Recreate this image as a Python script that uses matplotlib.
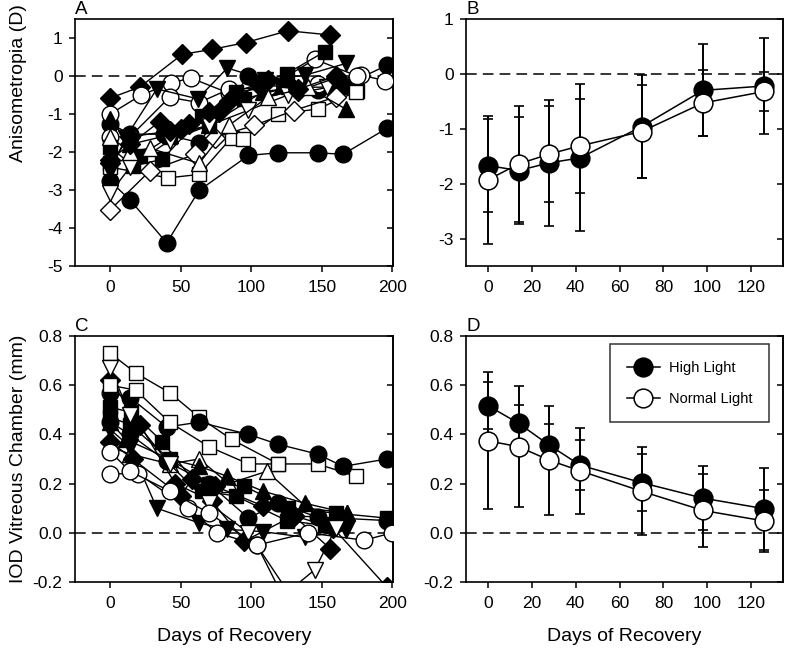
import matplotlib
matplotlib.use("Agg")
import matplotlib.pyplot as plt

plt.rcParams['font.family'] = ['Liberation Sans', 'DejaVu Sans']
plt.rcParams['axes.unicode_minus'] = False

# Panel A: individual animals, anisometropia (D)
a_days = [
    [0, 21, 51, 72, 96, 126, 156],
    [0, 14, 40, 63, 98, 119, 147, 165, 196],
    [0, 14, 38, 63, 98, 117, 147, 166, 196],
    [0, 22, 43, 57, 84, 112, 147, 178, 195],
    [0, 14, 42, 63, 84, 112, 145, 175],
    [0, 16, 37, 65, 89, 125, 152],
    [0, 21, 42, 70, 95, 126, 160, 175],
    [0, 41, 63, 86, 94, 119, 147, 174],
    [0, 28, 60, 74, 102, 130, 160],
    [0, 14, 42, 70, 108, 138, 167],
    [0, 11, 33, 62, 83, 110, 138, 167],
    [0, 14, 42, 70, 98, 126, 154],
    [0, 14, 42, 56, 70, 84, 112, 133, 160],
    [0, 14, 28, 63, 84, 112, 140],
    [0, 14, 35, 50, 77, 105, 133, 160],
]
a_vals = [
    [-0.58, -0.29, 0.57, 0.70, 0.88, 1.19, 1.08],
    [-2.77, -3.26, -4.39, -3.01, -2.09, -2.02, -2.02, -2.06, -1.38],
    [-1.25, -1.53, -1.53, -1.75, 0.00, -0.25, -0.36, -0.25, 0.28],
    [-1.00, -0.50, -0.19, -0.05, -0.45, -0.30, -0.20, 0.02, -0.12],
    [-1.60, -1.60, -0.56, -0.70, -0.35, -0.30, 0.44, 0.00],
    [-1.87, -2.37, -2.19, -1.06, -0.42, 0.06, 0.64],
    [-2.30, -2.10, -1.60, -1.30, -0.60, -0.30, -0.29, -0.40],
    [-2.40, -2.68, -2.59, -1.62, -1.66, -1.00, -0.87, -0.42],
    [-3.52, -2.50, -2.06, -1.62, -1.30, -0.91, -0.55],
    [-1.13, -1.80, -1.55, -1.30, -0.42, -0.25, -0.87],
    [-2.50, -1.62, -0.34, -0.60, 0.21, -0.10, 0.02, 0.33],
    [-3.08, -2.40, -1.70, -1.30, -0.90, -0.50, -0.30],
    [-2.30, -1.60, -1.45, -1.25, -0.95, -0.65, -0.10, -0.40, -0.05],
    [-1.60, -2.00, -1.90, -2.30, -1.30, -0.55, -0.30],
    [-2.20, -1.80, -1.20, -1.40, -0.95, -0.20, -0.35, 0.00],
]

# Panel C: individual animals, IOD vitreous chamber (mm)
c_days = [
    [0, 18, 42, 63, 86, 119, 147, 174],
    [0, 14, 40, 63, 98, 119, 147, 165, 196],
    [0, 14, 42, 63, 84, 111, 140, 168],
    [0, 14, 40, 70, 98, 119, 147, 196],
    [0, 14, 33, 63, 83, 108, 138, 167],
    [0, 21, 46, 72, 95, 130, 156],
    [0, 16, 50, 58, 74, 108, 130, 158, 196],
    [0, 15, 37, 65, 89, 125, 152],
    [0, 14, 42, 70, 95, 126, 160, 196],
    [0, 11, 42, 63, 83, 108, 138, 168],
    [0, 20, 55, 76, 104, 140, 180, 200],
    [0, 14, 42, 70, 98, 126, 145, 160],
    [0, 14, 42, 70, 104, 126],
    [0, 18, 42, 70, 98, 119],
]
c_vals = [
    [0.73, 0.65, 0.57, 0.47, 0.38, 0.28, 0.28, 0.23],
    [0.57, 0.55, 0.43, 0.45, 0.40, 0.36, 0.32, 0.27, 0.30],
    [0.35, 0.32, 0.28, 0.30, 0.20, 0.25, 0.10, 0.08],
    [0.45, 0.40, 0.29, 0.20, 0.06, 0.12, 0.064, 0.05],
    [0.42, 0.35, 0.10, 0.04, 0.014, 0.005, -0.018, 0.01],
    [0.62, 0.44, 0.20, 0.13, -0.034, 0.07, -0.065],
    [0.37, 0.30, 0.15, 0.22, 0.19, 0.11, 0.07, 0.02, -0.22],
    [0.51, 0.49, 0.37, 0.17, 0.15, 0.05, 0.03],
    [0.47, 0.44, 0.30, 0.20, 0.19, 0.10, 0.08, 0.06],
    [0.45, 0.38, 0.30, 0.27, 0.23, 0.17, 0.12, 0.08],
    [0.24, 0.24, 0.10, 0.00, -0.05, 0.00, -0.03, 0.00],
    [0.67, 0.48, 0.28, 0.12, 0.00, -0.24, -0.15, 0.02],
    [0.33, 0.25, 0.17, 0.08, -0.05, -0.30],
    [0.60, 0.58, 0.45, 0.35, 0.28, 0.28],
]

# Panels B and D: group means +/- SD
group_days = [0, 14, 28, 42, 70, 98, 126]
b_high = [-1.67, -1.76, -1.62, -1.53, -0.96, -0.30, -0.22]
b_high_sd = [0.85, 0.97, 1.15, 1.34, 0.94, 0.84, 0.88]
b_normal = [-1.93, -1.64, -1.46, -1.31, -1.05, -0.53, -0.32]
b_normal_sd = [1.17, 1.06, 0.88, 0.86, 0.85, 0.60, 0.36]
d_high = [0.517, 0.445, 0.356, 0.275, 0.204, 0.141, 0.098]
d_high_sd = [0.095, 0.075, 0.088, 0.102, 0.116, 0.13, 0.166]
d_normal = [0.374, 0.350, 0.295, 0.252, 0.169, 0.091, 0.048]
d_normal_sd = [0.278, 0.245, 0.222, 0.175, 0.178, 0.147, 0.125]
legend_labels = ['High Light', 'Normal Light']

# marker styles for the individual animals
a_marks = ['D', 'o', 'o', 'o', 'o', 's', 's', 's', 'D', '^', 'v', 'v', 'D', '^', 'D']
a_filled = [1, 1, 1, 0, 0, 1, 1, 0, 0, 1, 1, 0, 1, 0, 1]
c_marks = ['s', 'o', '^', 'o', 'v', 'D', 'D', 's', 's', '^', 'o', 'v', 'o', 's']
c_filled = [0, 1, 0, 1, 1, 1, 1, 1, 1, 1, 0, 0, 0, 0]
marker_size = {'o': 12, 's': 10.5, 'D': 10, '^': 11, 'v': 11}

fig = plt.figure(figsize=(7.88, 6.53), dpi=100)
ax_a = fig.add_axes([0.0952, 0.5926, 0.4036, 0.3783])
ax_b = fig.add_axes([0.5914, 0.5926, 0.4023, 0.3783])
ax_c = fig.add_axes([0.0952, 0.1087, 0.4036, 0.3767])
ax_d = fig.add_axes([0.5914, 0.1087, 0.4023, 0.3767])


def style_axes(ax, yticks, letter, fmt=None):
    for sp in ax.spines.values():
        sp.set_linewidth(1.2)
    ax.set_yticks(yticks)
    if fmt:
        ax.set_yticklabels([fmt % v for v in yticks])
    ax.tick_params(axis='both', direction='out', length=4, width=1.1, labelsize=12.5)
    ax.tick_params(axis='x', pad=6)
    ax.tick_params(axis='y', pad=5)
    sec = ax.secondary_yaxis('right')
    sec.set_yticks(yticks)
    sec.tick_params(direction='in', length=4, width=1.1, labelright=False)
    sec.spines['right'].set_linewidth(1.2)
    ax.axhline(0, color='black', lw=1.1, ls=(0, (7, 4)), zorder=1)
    ax.text(0.0, 1.005, letter, transform=ax.transAxes, ha='left', va='bottom', fontsize=13.5)


def plot_individuals(ax, days, vals, marks, filled):
    for d, v, m, f in zip(days, vals, marks, filled):
        ax.plot(d, v, color='black', lw=1, marker=m, markersize=marker_size[m],
                markerfacecolor='black' if f else 'white', markeredgecolor='black',
                markeredgewidth=1, zorder=3)


plot_individuals(ax_a, a_days, a_vals, a_marks, a_filled)
ax_a.set_xlim(-25, 200.5)
ax_a.set_ylim(-5, 1.5)
ax_a.set_xticks([0, 50, 100, 150, 200])
style_axes(ax_a, [-5, -4, -3, -2, -1, 0, 1], 'A')
ax_a.set_ylabel('Anisometropia (D)', fontsize=14)
ax_a.yaxis.set_label_coords(-0.15, 0.74)

plot_individuals(ax_c, c_days, c_vals, c_marks, c_filled)
ax_c.set_xlim(-25, 200.5)
ax_c.set_ylim(-0.2, 0.8)
ax_c.set_xticks([0, 50, 100, 150, 200])
style_axes(ax_c, [-0.2, 0.0, 0.2, 0.4, 0.6, 0.8], 'C', '%.1f')
ax_c.set_ylabel('IOD Vitreous Chamber (mm)', fontsize=14)
ax_c.yaxis.set_label_coords(-0.15, 0.5)
ax_c.set_xlabel('Days of Recovery', fontsize=14, labelpad=12)


def plot_groups(ax, high, high_sd, normal, normal_sd):
    for mean, sd in [(high, high_sd), (normal, normal_sd)]:
        ax.errorbar(group_days, mean, yerr=sd, fmt='none', ecolor='black', elinewidth=1.4,
                    capsize=3.5, capthick=1.2, zorder=2)
    for mean, face, lab in [(high, 'black', legend_labels[0]), (normal, 'white', legend_labels[1])]:
        ax.plot(group_days, mean, color='black', lw=1.1, marker='o', markersize=13.5,
                markerfacecolor=face, markeredgecolor='black', markeredgewidth=1.1,
                zorder=3, label=lab)


plot_groups(ax_b, b_high, b_high_sd, b_normal, b_normal_sd)
ax_b.set_xlim(-10, 134.5)
ax_b.set_ylim(-3.5, 1)
ax_b.set_xticks([0, 20, 40, 60, 80, 100, 120])
style_axes(ax_b, [-3, -2, -1, 0, 1], 'B')

plot_groups(ax_d, d_high, d_high_sd, d_normal, d_normal_sd)
ax_d.set_xlim(-10, 134.5)
ax_d.set_ylim(-0.2, 0.8)
ax_d.set_xticks([0, 20, 40, 60, 80, 100, 120])
style_axes(ax_d, [-0.2, 0.0, 0.2, 0.4, 0.6, 0.8], 'D', '%.1f')
ax_d.set_xlabel('Days of Recovery', fontsize=14, labelpad=12)

leg = ax_d.legend(loc='upper right', bbox_to_anchor=(0.956, 0.967), fontsize=10.5,
                  frameon=True, fancybox=False, edgecolor='black', handlelength=2.3,
                  borderpad=1.15, labelspacing=1.15, handletextpad=0.6, borderaxespad=0)
leg.get_frame().set_linewidth(1.1)

fig.savefig('out.png', dpi=100)
